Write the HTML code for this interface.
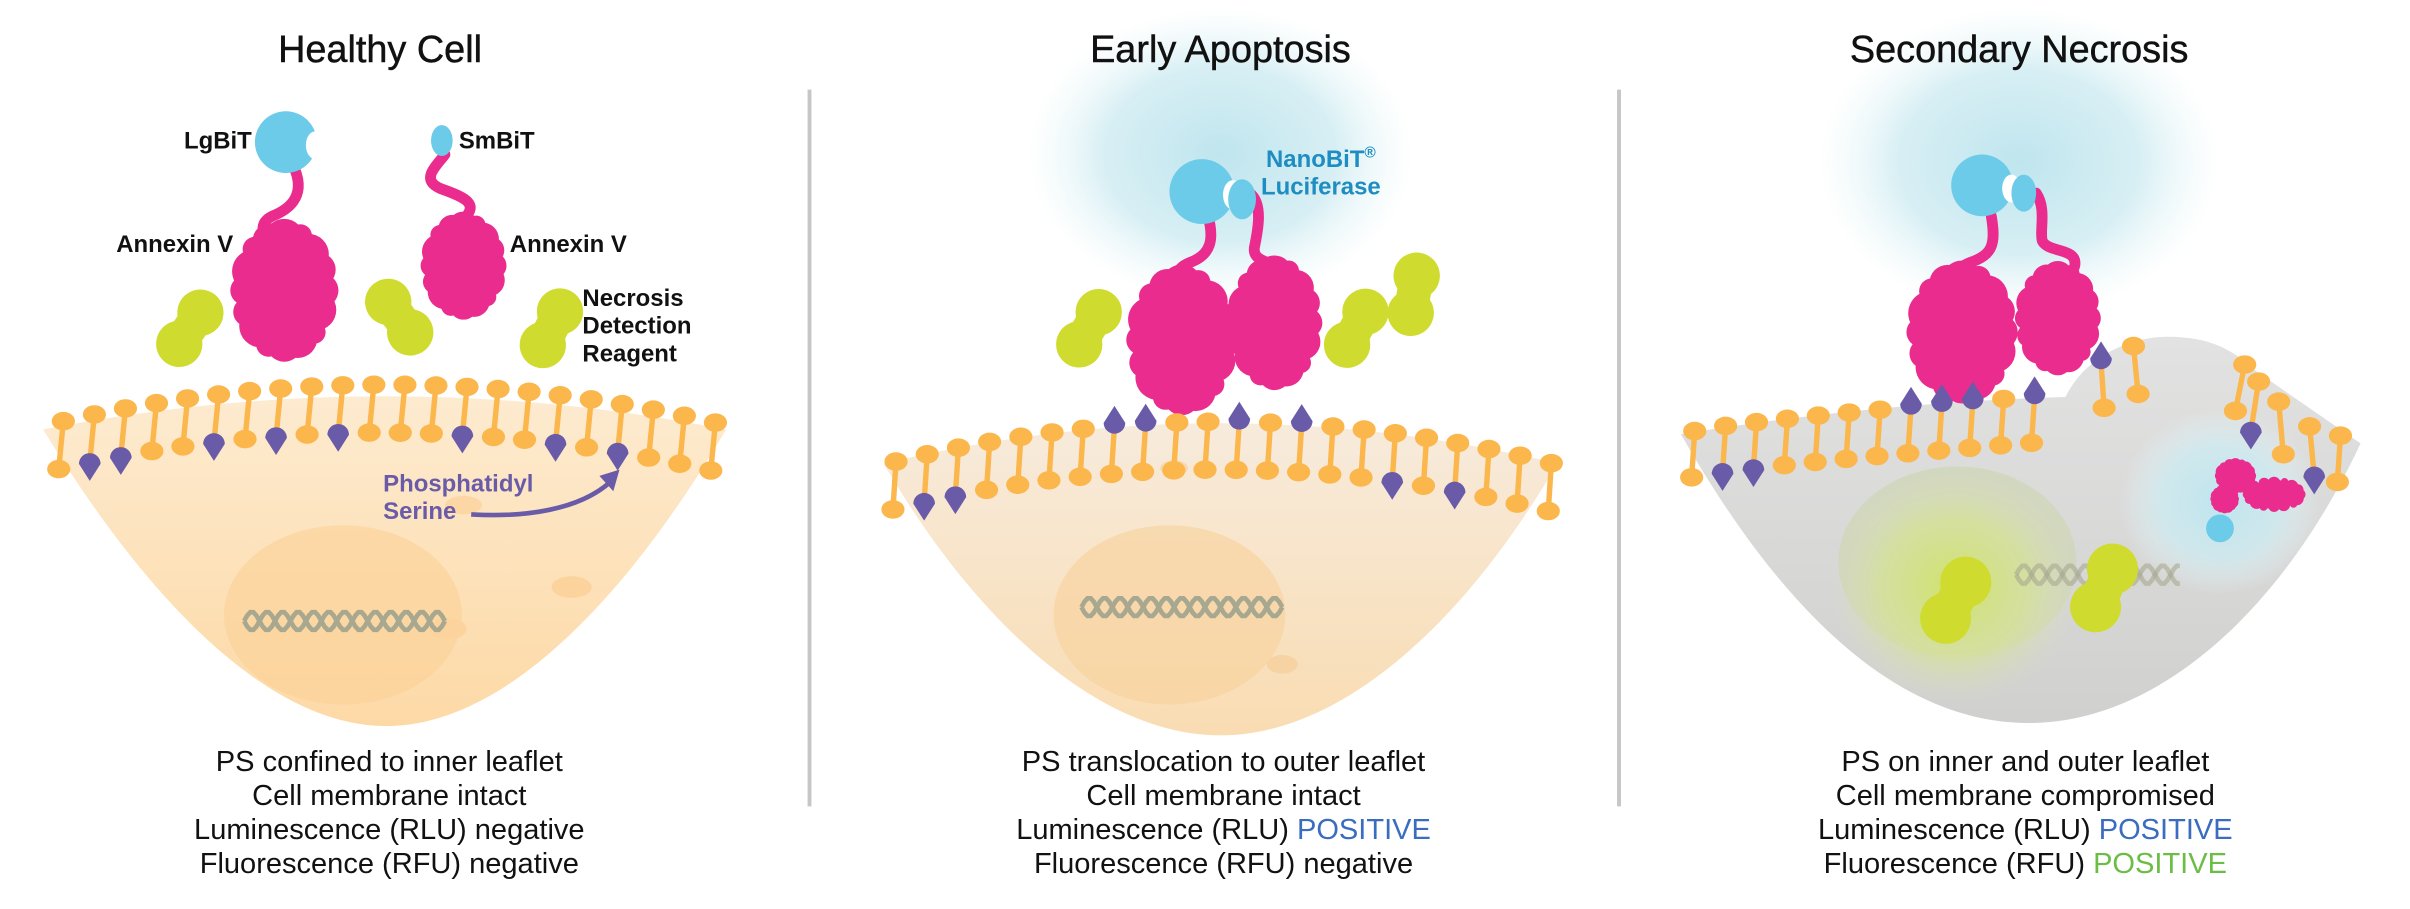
<!DOCTYPE html>
<html><head><meta charset="utf-8"><style>
html,body{margin:0;padding:0;background:#fff;}
svg{display:block;}
text{font-family:"Liberation Sans",sans-serif;}
</style></head><body>
<svg id="s" xmlns="http://www.w3.org/2000/svg" width="2410" height="909" viewBox="0 0 1560 588.4" preserveAspectRatio="none">
<defs>
<radialGradient id="glow" cx="50%" cy="50%" r="50%">
<stop offset="0" stop-color="#bfe5ee" stop-opacity="1"/>
<stop offset="0.6" stop-color="#cdebf1" stop-opacity="0.8"/>
<stop offset="1" stop-color="#e6f5f8" stop-opacity="0"/>
</radialGradient>
<radialGradient id="gglow" cx="50%" cy="50%" r="50%">
<stop offset="0" stop-color="#cfe36a" stop-opacity="1"/>
<stop offset="0.6" stop-color="#d6e394" stop-opacity="0.7"/>
<stop offset="1" stop-color="#dbe0c0" stop-opacity="0"/>
</radialGradient>
<linearGradient id="c1" x1="0" y1="0" x2="0" y2="1">
<stop offset="0" stop-color="#fdebd0"/><stop offset="1" stop-color="#fdd9a6"/>
</linearGradient>
<linearGradient id="c2" x1="0" y1="0" x2="0" y2="1">
<stop offset="0" stop-color="#f7ebdc"/><stop offset="1" stop-color="#f9dcb2"/>
</linearGradient>
<linearGradient id="c3" x1="0" y1="0" x2="0" y2="1">
<stop offset="0" stop-color="#e2e2e2"/><stop offset="1" stop-color="#d0d0ce"/>
</linearGradient>
</defs>
<g id="bg">
<line x1="524" y1="58" x2="524" y2="522" stroke="#c6c6c6" stroke-width="2.5"/>
<line x1="1048" y1="58" x2="1048" y2="522" stroke="#c6c6c6" stroke-width="2.5"/>
<ellipse cx="790" cy="100" rx="125" ry="95" fill="url(#glow)"/>
<ellipse cx="1307" cy="105" rx="130" ry="100" fill="url(#glow)"/>
<path d="M28,278 Q250,235 470,278 C410,380 330,470 250,470 C170,470 90,380 28,278 Z" fill="url(#c1)"/>
<ellipse cx="222" cy="398" rx="77" ry="58" fill="#fbcf94" opacity="0.55"/>
<ellipse cx="370" cy="380" rx="13" ry="7" fill="#fcd39c"/>
<ellipse cx="290" cy="407" rx="12" ry="7" fill="#fcd39c"/>
<ellipse cx="300" cy="327" rx="12" ry="6" fill="#fcd7a5"/>
<path d="M572,300 Q790,248 1008,300 C950,400 870,476 790,476 C710,476 630,400 572,300 Z" fill="url(#c2)"/>
<ellipse cx="757" cy="398" rx="75" ry="58" fill="#f8cf98" opacity="0.55"/>
<ellipse cx="760" cy="303" rx="9" ry="5" fill="#f7d8b0"/>
<ellipse cx="830" cy="430" rx="10" ry="6" fill="#f7d3a4"/>
<path d="M1088,281 Q1220,260 1337,257 C1350,230 1380,218 1403,218 C1430,218 1445,226 1460,240 L1528,287 C1480,390 1400,468 1313,468 C1225,468 1150,390 1088,281 Z" fill="url(#c3)"/>
<ellipse cx="1267" cy="364" rx="77" ry="62" fill="#cfd6b8" opacity="0.8"/>
<ellipse cx="1265" cy="380" rx="80" ry="75" fill="url(#gglow)"/>
<ellipse cx="1437" cy="325" rx="65" ry="60" fill="url(#glow)"/>
</g>
<g id="dna" fill="none" stroke-width="3"></g>
<g id="prot"></g>
<g id="lip"></g>
<g id="front"></g>
<g id="txt">
<g font-size="24.5" text-anchor="middle" fill="#111" stroke="#111" stroke-width="0.3">
<text x="246" y="40">Healthy Cell</text>
<text x="790" y="40">Early Apoptosis</text>
<text x="1307" y="40">Secondary Necrosis</text>
</g>
<g font-size="15.5" font-weight="bold" fill="#111">
<text x="163" y="96" text-anchor="end">LgBiT</text>
<text x="297" y="96">SmBiT</text>
<text x="151" y="163" text-anchor="end">Annexin V</text>
<text x="330" y="163">Annexin V</text>
<text x="377" y="198">Necrosis</text>
<text x="377" y="216">Detection</text>
<text x="377" y="234">Reagent</text>
</g>
<g font-size="15.5" font-weight="bold" fill="#6a5ba8">
<text x="248" y="318">Phosphatidyl</text>
<text x="248" y="336">Serine</text>
</g>
<g font-size="15.5" font-weight="bold" fill="#1d8dc2" text-anchor="middle">
<text x="855" y="108">NanoBiT<tspan font-size="10" dy="-6">®</tspan></text>
<text x="855" y="126">Luciferase</text>
</g>
<g font-size="18.8" fill="#111" text-anchor="middle">
<text x="252" y="499">PS confined to inner leaflet</text>
<text x="252" y="521">Cell membrane intact</text>
<text x="252" y="543">Luminescence (RLU) negative</text>
<text x="252" y="565">Fluorescence (RFU) negative</text>
<text x="792" y="499">PS translocation to outer leaflet</text>
<text x="792" y="521">Cell membrane intact</text>
<text x="792" y="543">Luminescence (RLU) <tspan fill="#3a6cc0">POSITIVE</tspan></text>
<text x="792" y="565">Fluorescence (RFU) negative</text>
<text x="1311" y="499">PS on inner and outer leaflet</text>
<text x="1311" y="521">Cell membrane compromised</text>
<text x="1311" y="543">Luminescence (RLU) <tspan fill="#3a6cc0">POSITIVE</tspan></text>
<text x="1311" y="565">Fluorescence (RFU) <tspan fill="#6cbd45">POSITIVE</tspan></text>
</g>
</g>
</svg>
<script>
const NS='http://www.w3.org/2000/svg';
function el(t,a,p){const e=document.createElementNS(NS,t);for(const k in a)e.setAttribute(k,a[k]);document.getElementById(p).appendChild(e);return e;}
function sub(g,t,a){const e=document.createElementNS(NS,t);for(const k in a)e.setAttribute(k,a[k]);g.appendChild(e);return e;}
const OR='#fbb64c',PU='#6a5ba8',PK='#ea2c8e',CY='#6ccbe8',GR='#cfdb2e';
function dna(x1,x2,y,op){let a='',b='';for(let x=x1;x<=x2;x+=2){const s=Math.sin((x-x1)/20*2*Math.PI)*6;a+=(x==x1?'M':'L')+x+','+(y+s);b+=(x==x1?'M':'L')+x+','+(y-s);}
el('path',{d:a,stroke:'#a7a88f',opacity:op},'dna');el('path',{d:b,stroke:'#a7a88f',opacity:op},'dna');}
dna(158,288,402,1);dna(700,830,393,1);dna(1305,1412,372,0.6);
function drop(x,y,up,p){const d=up?`M${x-7},${y} A7,7 0 0 0 ${x+7},${y} L${x},${y-11} Z`:`M${x-7},${y} A7,7 0 0 1 ${x+7},${y} L${x},${y+11} Z`;el('path',{d:d,fill:PU},p);}
function lipid(x1,y1,x2,y2,top,bot){el('line',{x1:x1,y1:y1,x2:x2,y2:y2,stroke:OR,'stroke-width':3.5},'lip');
 if(top)drop(x1,y1-2,true,'lip');else el('ellipse',{cx:x1,cy:y1,rx:7.5,ry:6,fill:OR},'lip');
 if(bot)drop(x2,y2+1,false,'lip');else el('ellipse',{cx:x2,cy:y2,rx:7.5,ry:6,fill:OR},'lip');}
const b1=[1,2,5,7,9,13,16,18];
for(let i=0;i<22;i++){const x=41+20.1*i,y=249+25*Math.pow((x-250)/215,2);lipid(x,y,x-3,y+31,false,b1.includes(i));}
const t2=[7,8,11,13],b2=[1,2,16,18];
for(let i=0;i<22;i++){const x=580+20.2*i,y=273+27*Math.pow((x-790)/215,2);lipid(x,y,x-2,y+31,t2.includes(i),b2.includes(i));}
const t3=[7,8,9,11],b3=[1,2];
for(let i=0;i<12;i++){const x=1097+20*i,y=279-24*Math.pow(i/12,0.8);lipid(x,y,x-2,y+30,t3.includes(i),b3.includes(i));}
lipid(1360,234,1362,264,true,false);lipid(1381,224,1384,255,false,false);
lipid(1453,236,1447,266,false,false);lipid(1462,247,1457,279,false,true);lipid(1475,260,1478,294,false,false);lipid(1495,276,1498,308,false,true);lipid(1515,282,1513,312,false,false);
function bumpy(cx,cy,w,h,p){const rx=w/2,ry=h/2;el('ellipse',{cx:cx,cy:cy,rx:rx*0.82,ry:ry*0.85,fill:PK},p);
 const n=16;for(let i=0;i<n;i++){const a=i/n*2*Math.PI;const r=Math.min(w,h)*(0.16+0.05*Math.sin(i*2.3));el('circle',{cx:cx+Math.cos(a)*(rx-r*0.9),cy:cy+Math.sin(a)*(ry-r*0.9),r:r,fill:PK},p);}}
function linker(d){el('path',{d:d,fill:'none',stroke:PK,'stroke-width':7,'stroke-linecap':'round'},'prot');}
function peanut(cx,cy,ang,s){s=s||1;const g=el('g',{transform:`translate(${cx},${cy}) rotate(${ang}) scale(${s})`},'front');
 sub(g,'ellipse',{cx:4,cy:-11,rx:15,ry:15,fill:GR});sub(g,'ellipse',{cx:-4,cy:12,rx:15,ry:15,fill:GR});
 sub(g,'path',{d:'M4,-11 L-4,12',stroke:GR,'stroke-width':22});}
function lg(cx,cy,r,p){el('circle',{cx:cx,cy:cy,r:r,fill:CY},p);el('ellipse',{cx:cx+r*0.95,cy:cy+r*0.1,rx:r*0.3,ry:r*0.45,fill:'#fff'},p);}
linker('M191,110 C198,128 186,136 176,140 C168,144 170,150 172,155');
linker('M288,100 C282,108 272,116 285,122 C302,128 310,132 300,142');
bumpy(184,188,68,90,'prot');bumpy(300,172,54,68,'prot');
lg(185,92,20,'prot');el('ellipse',{cx:286,cy:91,rx:7,ry:10,fill:CY},'prot');
peanut(123,212,15);peanut(258,205,-55);peanut(357,212,8);
el('path',{d:'M305,333 C340,335 375,330 395,312',fill:'none',stroke:PU,'stroke-width':3},'front');
el('path',{d:'M401,304 L388,308 L397,318 Z',fill:PU},'front');
linker('M782,140 C786,155 784,165 770,170 C760,174 760,182 766,188');
linker('M809,125 C818,132 814,150 812,160 C810,172 830,168 832,180 C833,188 828,192 826,196');
bumpy(765,220,70,95,'prot');bumpy(825,209,60,85,'prot');
lg(778,124,21,'prot');el('ellipse',{cx:804,cy:129,rx:9,ry:13,fill:CY},'prot');
peanut(705,212,12);peanut(878,212,10);peanut(915,190,-10);
linker('M1289,140 C1292,158 1290,165 1275,170 C1265,174 1266,180 1270,186');
linker('M1318,125 C1325,135 1320,150 1322,156 C1326,164 1345,160 1343,172 C1341,180 1333,183 1330,188');
bumpy(1270,215,70,90,'prot');bumpy(1332,206,54,72,'prot');
lg(1283,120,20,'prot');el('ellipse',{cx:1310,cy:125,rx:8,ry:12,fill:CY},'prot');
bumpy(1447,308,26,22,'prot');bumpy(1472,320,40,22,'prot');bumpy(1440,323,18,18,'prot');
el('circle',{cx:1437,cy:342,r:9,fill:CY},'prot');
peanut(1266,388,10,1.1);peanut(1362,380,5,1.1);
</script>
</body></html>
